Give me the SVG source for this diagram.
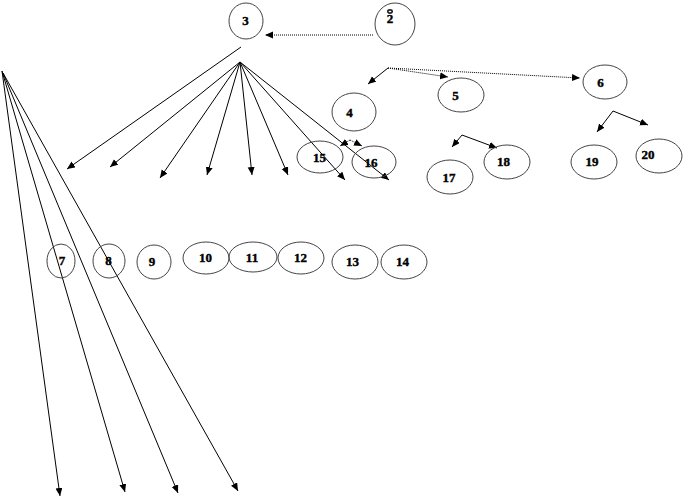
<svg xmlns="http://www.w3.org/2000/svg" width="684" height="502" viewBox="0 0 684 502">
<style>
.n ellipse{fill:none;stroke:#444;stroke-width:1}
.n text{font-family:"Liberation Serif","Times New Roman",serif;font-weight:bold;font-size:13px;fill:#000;stroke:#000;stroke-width:0.4;text-anchor:middle}
.c line,.c polyline{stroke:#000;stroke-width:1;fill:none;marker-end:url(#ah)}
.c .d{stroke-dasharray:1 1}
</style>
<defs>
<marker id="ah" markerUnits="userSpaceOnUse" markerWidth="9" markerHeight="8" refX="8" refY="3.5" orient="auto">
<path d="M0,0 L8,3.5 L0,7 z" fill="#000"/>
</marker>
</defs>
<rect width="684" height="502" fill="#fff"/>
<g class="c" id="connectors">
<line class="d" x1="373" y1="35" x2="265" y2="35"/>
<line x1="241" y1="47" x2="67" y2="169"/>
<line x1="240" y1="62" x2="110" y2="167"/>
<line x1="240" y1="62" x2="160" y2="178"/>
<line x1="240" y1="62" x2="207" y2="175"/>
<line x1="240" y1="62" x2="252" y2="175"/>
<line x1="240" y1="62" x2="288" y2="175"/>
<line x1="240" y1="62" x2="345" y2="180"/>
<line x1="240" y1="62" x2="389" y2="180"/>
<polyline class="d" points="350,140 340,146"/>
<polyline class="d" points="350,140 362,146"/>
<polyline points="388,68 368,84"/>
<polyline class="d" points="388,68 448,77"/>
<polyline class="d" points="388,68 580,78"/>
<polyline points="462,135 452,147"/>
<polyline points="462,135 497,148"/>
<polyline points="613,111 597,132"/>
<polyline points="613,111 648,125"/>
<line x1="2" y1="71" x2="60" y2="496"/>
<line x1="2" y1="71" x2="125" y2="492"/>
<line x1="3" y1="73" x2="178" y2="493"/>
<line x1="3" y1="73" x2="238" y2="491"/>
</g>
<g class="n" id="n2"><ellipse cx="395" cy="24" rx="20" ry="21"/><ellipse cx="390" cy="11.5" rx="2.2" ry="1.6" style="stroke:#222;stroke-width:1.6"/><text x="390" y="23">2</text></g>
<g class="n" id="n3"><ellipse cx="246" cy="21" rx="17" ry="18"/><text x="245.5" y="25">3</text></g>
<g class="n" id="n4"><ellipse cx="354" cy="112" rx="22" ry="19"/><text x="349.5" y="117">4</text></g>
<g class="n" id="n5"><ellipse cx="461" cy="95" rx="23" ry="17"/><text x="455.5" y="100">5</text></g>
<g class="n" id="n6"><ellipse cx="605" cy="82" rx="22" ry="17"/><text x="600.5" y="87">6</text></g>
<g class="n" id="n15"><ellipse cx="320" cy="157" rx="23" ry="16"/><text x="319.5" y="162">15</text></g>
<g class="n" id="n16"><ellipse cx="374" cy="162" rx="22" ry="16"/><text x="371" y="167">16</text></g>
<g class="n" id="n17"><ellipse cx="450" cy="177" rx="23" ry="17"/><text x="449" y="182">17</text></g>
<g class="n" id="n18"><ellipse cx="507" cy="162" rx="23" ry="17"/><text x="503.5" y="166">18</text></g>
<g class="n" id="n19"><ellipse cx="594" cy="162" rx="23" ry="17"/><text x="592" y="166">19</text></g>
<g class="n" id="n20"><ellipse cx="659" cy="156" rx="23" ry="17"/><text x="648" y="159">20</text></g>
<g class="n" id="n7"><ellipse cx="61" cy="261" rx="14" ry="17"/><text x="62" y="265">7</text></g>
<g class="n" id="n8"><ellipse cx="109" cy="261" rx="16" ry="17"/><text x="108.5" y="265">8</text></g>
<g class="n" id="n9"><ellipse cx="154" cy="262" rx="17" ry="17"/><text x="152" y="266">9</text></g>
<g class="n" id="n10"><ellipse cx="206" cy="258" rx="23" ry="16"/><text x="205.5" y="262">10</text></g>
<g class="n" id="n11"><ellipse cx="253" cy="257" rx="24" ry="15"/><text x="252" y="262">11</text></g>
<g class="n" id="n12"><ellipse cx="301" cy="258" rx="23" ry="16"/><text x="300.5" y="262">12</text></g>
<g class="n" id="n13"><ellipse cx="355" cy="262" rx="23" ry="17"/><text x="352.5" y="266">13</text></g>
<g class="n" id="n14"><ellipse cx="404" cy="262" rx="23" ry="17"/><text x="402.5" y="266">14</text></g>
</svg>
